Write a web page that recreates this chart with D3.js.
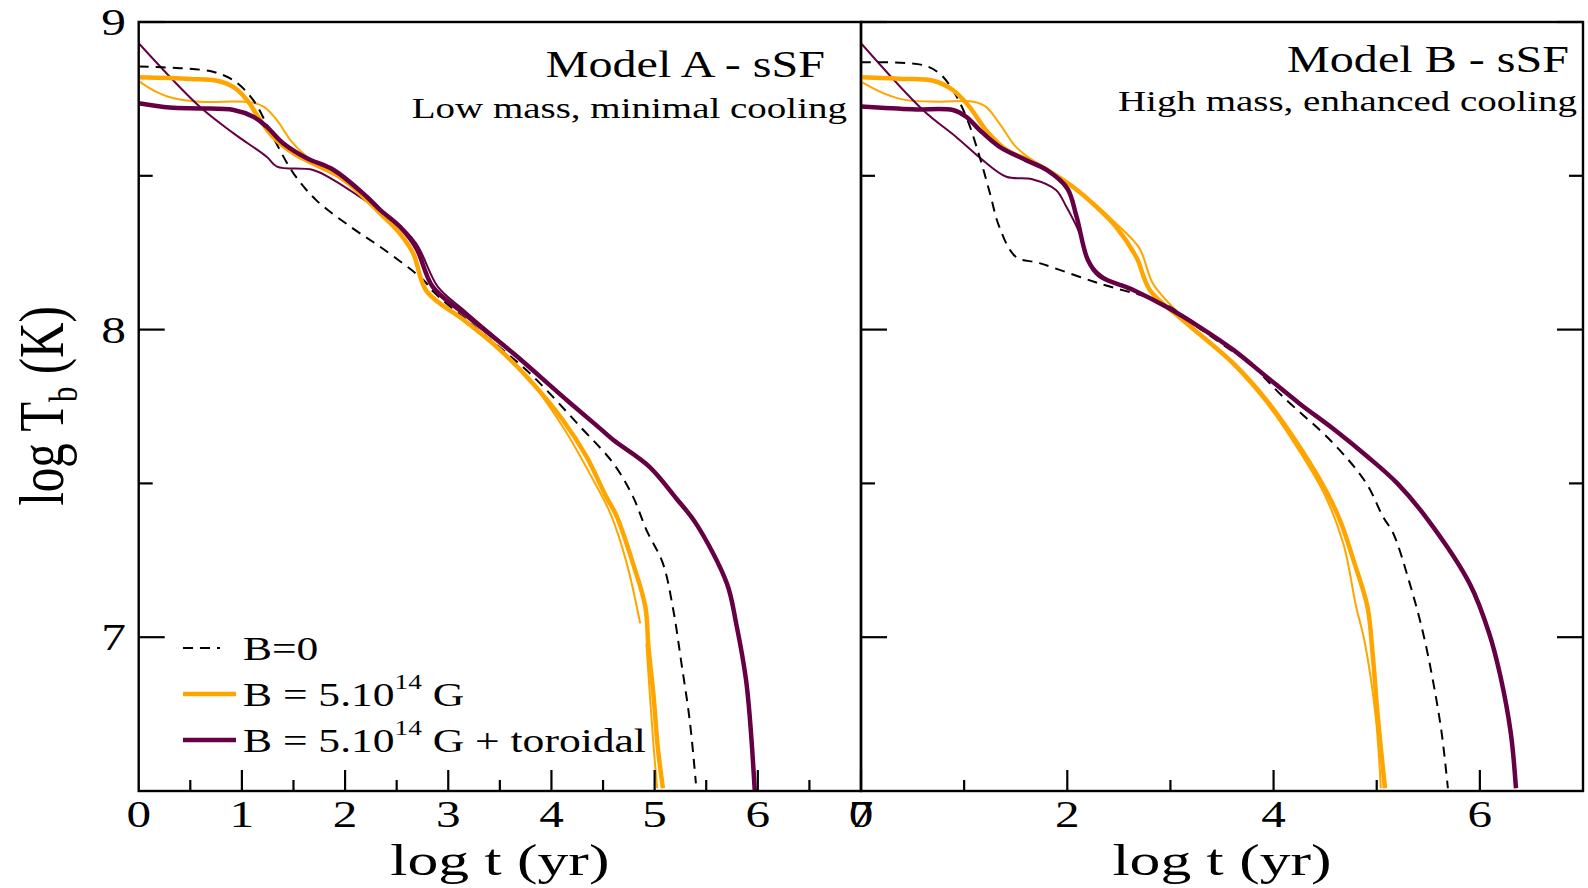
<!DOCTYPE html>
<html>
<head>
<meta charset="utf-8">
<script src="https://cdn.jsdelivr.net/npm/d3@7"></script>
<style>
  html, body { margin: 0; padding: 0; background: #fff; }
  svg { display: block; }
  text { font-family: "Liberation Serif", "DejaVu Serif", serif; fill: #000; }
</style>
</head>
<body>
<script>
// ---------------- DATA ----------------
const xTicksA = [0, 1, 2, 3, 4, 5, 6, 7];
const xMinorA = [0.5, 1.5, 2.5, 3.5, 4.5, 5.5, 6.5];
const xTicksB = [0, 2, 4, 6];
const xMinorB = [1, 3, 5];
const yTicks = [7, 8, 9];
const yMinor = [7.5, 8.5];

// Model A (low mass, minimal cooling)
const modelA_B0 = [[0,8.855],[0.4,8.85],[0.72,8.838],[0.92,8.81],[1.11,8.746],[1.30,8.627],[1.50,8.508],[1.72,8.421],[2.05,8.335],[2.37,8.262],[2.76,8.161],[2.85,8.125],[3.3,7.997],[3.79,7.858],[4.28,7.684],[4.60,7.565],[4.79,7.457],[4.92,7.349],[5.08,7.24],[5.18,7.09],[5.26,6.915],[5.34,6.73],[5.40,6.525]];
const modelA_B14_thick = [[0,8.82],[0.5,8.815],[0.76,8.809],[0.92,8.788],[1.05,8.746],[1.18,8.68],[1.30,8.627],[1.50,8.573],[1.72,8.535],[1.95,8.497],[2.21,8.421],[2.34,8.378],[2.53,8.313],[2.66,8.248],[2.79,8.125],[3.15,8.031],[3.47,7.944],[3.79,7.836],[4.11,7.706],[4.34,7.587],[4.53,7.457],[4.63,7.395],[4.79,7.24],[4.91,7.099],[4.94,6.969],[4.99,6.807],[5.03,6.644],[5.08,6.509]];
const modelA_B14_thin = [[0,8.808],[0.17,8.773],[0.34,8.752],[0.59,8.741],[1.08,8.739],[1.21,8.725],[1.34,8.681],[1.47,8.616],[1.63,8.562],[1.89,8.505],[2.21,8.425],[2.53,8.315],[2.66,8.25],[2.79,8.13],[3.15,8.03],[3.47,7.94],[3.76,7.847],[4.11,7.684],[4.405,7.511],[4.57,7.403],[4.73,7.24],[4.86,7.045],null,[4.92,6.98],[4.955,6.807],[4.99,6.644],[5.025,6.509]];
const modelA_tor_thick = [[0,8.736],[0.3,8.722],[0.59,8.719],[0.92,8.714],[1.11,8.692],[1.24,8.66],[1.40,8.606],[1.63,8.557],[1.89,8.519],[2.21,8.432],[2.34,8.389],[2.53,8.335],[2.69,8.265],[2.85,8.139],[3.15,8.053],[3.63,7.923],[4.11,7.782],[4.47,7.679],[4.60,7.641],[4.95,7.554],[5.21,7.451],[5.40,7.37],[5.70,7.175],[5.79,7.045],[5.89,6.85],[5.97,6.503]];
const modelA_tor_thin = [[0,8.931],[0.59,8.725],[0.92,8.638],[1.24,8.562],[1.34,8.53],[1.69,8.519],[1.89,8.486],[2.14,8.432],[2.47,8.356],[2.69,8.28],[2.90,8.139],[3.15,8.064],[3.63,7.925],[3.9,7.843]];

// Model B (high mass, enhanced cooling)
const modelB_B0 = [[0,8.869],[0.6,8.86],[0.76,8.833],[0.89,8.779],[1.02,8.692],[1.15,8.562],[1.25,8.443],[1.34,8.335],[1.50,8.237],[1.73,8.216],[2.31,8.15],[2.94,8.084],[3.3,8.0],[3.6,7.93],[3.77,7.89],[4.09,7.782],[4.58,7.63],[4.90,7.5],[5.06,7.392],[5.16,7.338],[5.32,7.175],[5.45,7.013],[5.55,6.85],[5.63,6.688],[5.69,6.509]];
const modelB_B14_thick = [[0,8.82],[0.4,8.815],[0.70,8.809],[0.89,8.779],[1.05,8.725],[1.21,8.649],[1.41,8.584],[1.63,8.551],[1.86,8.508],[2.05,8.465],[2.28,8.4],[2.47,8.335],[2.67,8.235],[2.80,8.129],[3.12,8.031],[3.61,7.89],[3.93,7.771],[4.25,7.62],[4.51,7.475],[4.65,7.375],[4.78,7.245],[4.91,7.099],[4.96,6.948],[5.01,6.742],[5.08,6.509]];
const modelB_B14_thin = [[0,8.806],[0.22,8.768],[0.44,8.746],[0.76,8.741],[1.09,8.741],[1.21,8.725],[1.34,8.671],[1.50,8.595],[1.66,8.551],[1.86,8.51],[2.05,8.468],[2.28,8.405],[2.47,8.346],[2.70,8.264],[2.83,8.15],[3.06,8.06],[3.61,7.885],[3.93,7.762],[4.25,7.605],[4.50,7.46],[4.68,7.30],[4.80,7.1],[4.88,6.99],[4.99,6.742],[5.04,6.509]];
const modelB_tor_thick = [[0,8.725],[0.5,8.716],[0.89,8.714],[1.02,8.692],[1.15,8.649],[1.34,8.595],[1.60,8.551],[1.80,8.519],[2.00,8.459],[2.09,8.367],[2.20,8.226],[2.31,8.175],[2.64,8.129],[2.96,8.074],[3.28,8.009],[3.61,7.934],[3.93,7.847],[4.25,7.76],[4.6,7.672],[4.9,7.59],[5.2,7.5],[5.5,7.38],[5.90,7.175],[6.09,7.013],[6.20,6.872],[6.30,6.688],[6.35,6.509]];
const modelB_tor_thin = [[0,8.931],[0.60,8.714],[0.92,8.627],[1.18,8.551],[1.41,8.497],[1.66,8.489],[1.89,8.454],[1.99,8.4],[2.12,8.313],[2.22,8.216],[2.38,8.165],[2.64,8.13],[3.0,8.068],[3.3,8.0]];

const panelTitles = ["Model A - sSF", "Model B - sSF"];
const panelSubtitles = ["Low mass, minimal cooling", "High mass, enhanced cooling"];
const legendLabels = ["B=0", "B = 5.10", "B = 5.10"];

// ---------------- LAYOUT ----------------
const W = 1588, H = 888;
const plotTop = 22, plotBottom = 791;
const panels = [
  { x0: 138.7, x1: 861, ticks: xTicksA, minor: xMinorA, title: panelTitles[0], sub: panelSubtitles[0],
    series: { b0: modelA_B0, oThick: modelA_B14_thick, oThin: modelA_B14_thin, pThick: modelA_tor_thick, pThin: modelA_tor_thin },
    titleX: 825, titleY: 77, subX: 847, subY: 118 },
  { x0: 861, x1: 1583, ticks: xTicksB, minor: xMinorB, title: panelTitles[1], sub: panelSubtitles[1],
    series: { b0: modelB_B0, oThick: modelB_B14_thick, oThin: modelB_B14_thin, pThick: modelB_tor_thick, pThin: modelB_tor_thin },
    titleX: 1569, titleY: 72, subX: 1577, subY: 111 }
];
const ORANGE = "#ffa500", PURPLE = "#660044";
const SX = 1.3; // horizontal text stretch

const svg = d3.select("body").append("svg").attr("width", W).attr("height", H);
svg.append("rect").attr("width", W).attr("height", H).attr("fill", "#fff");

const y = d3.scaleLinear().domain([6.5, 9]).range([plotBottom, plotTop]);

function stext(parent, x, yy, str, size, anchor, sx) {
  const g = parent.append("g").attr("transform", `translate(${x},${yy}) scale(${sx},1)`);
  return g.append("text").attr("x", 0).attr("y", 0).attr("font-size", size).attr("text-anchor", anchor).text(str);
}

panels.forEach((p, i) => {
  const x = d3.scaleLinear().domain([0, 7]).range([p.x0, p.x1]);
  const g = svg.append("g");
  const clipId = "clip" + i;
  svg.append("clipPath").attr("id", clipId).append("rect")
    .attr("x", p.x0).attr("y", plotTop).attr("width", p.x1 - p.x0).attr("height", plotBottom - plotTop);

  const line = d3.line().defined(d => d !== null)
    .x(d => x(d[0])).y(d => y(d[1])).curve(d3.curveCatmullRom.alpha(0.5));

  const lg = g.append("g").attr("clip-path", `url(#${clipId})`).attr("fill", "none")
    .attr("stroke-linejoin", "round").attr("stroke-linecap", "butt");
  lg.append("path").attr("d", line(p.series.oThin)).attr("stroke", ORANGE).attr("stroke-width", 2);
  lg.append("path").attr("d", line(p.series.pThin)).attr("stroke", PURPLE).attr("stroke-width", 2);
  lg.append("path").attr("d", line(p.series.b0)).attr("stroke", "#000").attr("stroke-width", 2)
    .attr("stroke-dasharray", "10,7");
  lg.append("path").attr("d", line(p.series.oThick)).attr("stroke", ORANGE).attr("stroke-width", 4.5);
  lg.append("path").attr("d", line(p.series.pThick)).attr("stroke", PURPLE).attr("stroke-width", 4.5);

  const ax = g.append("g").attr("stroke", "#000").attr("stroke-width", 2.2);
  p.ticks.forEach(t => {
    if (t === 0) return;
    ax.append("line").attr("x1", x(t)).attr("x2", x(t)).attr("y1", plotBottom).attr("y2", plotBottom - 21);
  });
  p.minor.forEach(t => {
    ax.append("line").attr("x1", x(t)).attr("x2", x(t)).attr("y1", plotBottom).attr("y2", plotBottom - 11);
  });
  yTicks.forEach(t => {
    ax.append("line").attr("x1", p.x0).attr("x2", p.x0 + 26).attr("y1", y(t)).attr("y2", y(t));
    if (i === 1) ax.append("line").attr("x1", p.x1).attr("x2", p.x1 - 26).attr("y1", y(t)).attr("y2", y(t));
  });
  yMinor.forEach(t => {
    ax.append("line").attr("x1", p.x0).attr("x2", p.x0 + 14).attr("y1", y(t)).attr("y2", y(t));
    if (i === 1) ax.append("line").attr("x1", p.x1).attr("x2", p.x1 - 14).attr("y1", y(t)).attr("y2", y(t));
  });

  g.append("rect").attr("x", p.x0).attr("y", plotTop).attr("width", p.x1 - p.x0).attr("height", plotBottom - plotTop)
    .attr("fill", "none").attr("stroke", "#000").attr("stroke-width", 2.4);

  p.ticks.forEach(t => {
    stext(g, x(t), 827, String(t), 37, "middle", 1.33);
  });
  stext(g, (p.x0 + p.x1) / 2, 875, "log t (yr)", 45, "middle", 1.37);

  stext(g, p.titleX, p.titleY, p.title, 37, "end", SX);
  stext(g, p.subX, p.subY, p.sub, 30, "end", SX);
});

yTicks.forEach(t => {
  stext(svg, 126, y(t) + 13, String(t), 38, "end", SX);
});

const yl = svg.append("g").attr("transform", `translate(63,406) rotate(-90) scale(1,1.28)`)
  .append("text").attr("text-anchor", "middle").attr("font-size", 49);
yl.append("tspan").text("log T");
yl.append("tspan").attr("font-size", 31).attr("dy", 11).text("b");
yl.append("tspan").attr("dy", -11).text(" (K)");

const leg = svg.append("g");
const legRows = [
  { y: 648, color: "#000", dash: "10,7", w: 2, len: 37, label: legendLabels[0], sup: null },
  { y: 694, color: ORANGE, dash: null, w: 4.5, len: 53, label: legendLabels[1], sup: "14", tail: " G" },
  { y: 740, color: PURPLE, dash: null, w: 4.5, len: 53, label: legendLabels[2], sup: "14", tail: " G + toroidal" }
];
legRows.forEach(r => {
  leg.append("line").attr("x1", 183).attr("x2", 183 + r.len).attr("y1", r.y).attr("y2", r.y)
    .attr("stroke", r.color).attr("stroke-width", r.w).attr("stroke-dasharray", r.dash);
  const gt = leg.append("g").attr("transform", `translate(243,${r.y + 12}) scale(${SX},1)`);
  const t = gt.append("text").attr("font-size", 33.5);
  t.append("tspan").text(r.label);
  if (r.sup) {
    t.append("tspan").attr("font-size", 21).attr("dy", -17).text(r.sup);
    t.append("tspan").attr("dy", 17).text(r.tail);
  }
});
</script>
</body>
</html>
